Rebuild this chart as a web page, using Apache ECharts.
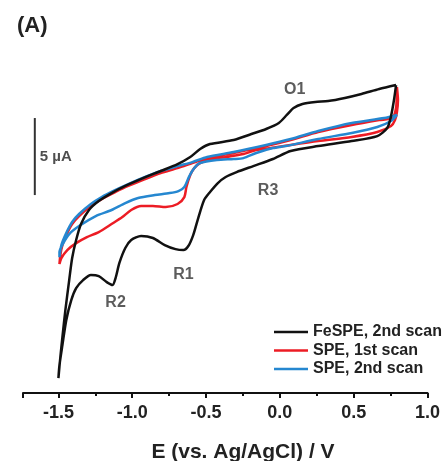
<!DOCTYPE html>
<html>
<head>
<meta charset="utf-8">
<script src="https://cdn.jsdelivr.net/npm/echarts@6/dist/echarts.min.js"></script>
<style>
  html, body { margin: 0; padding: 0; background: #fff; }
  #chart { width: 443px; height: 461px; }
</style>
</head>
<body>
<div id="chart"></div>
<script>
// Cyclic voltammograms: potential E (V vs. Ag/AgCl) and current I (µA).
// Each loop is listed in scan order (cathodic branch, then anodic branch).

var feE = [0.787, 0.773, 0.753, 0.727, 0.660, 0.487, 0.260, 0.073, -0.047, -0.180, -0.293, -0.367, -0.420, -0.473, -0.513, -0.553, -0.587, -0.620, -0.653, -0.707, -0.780, -0.860, -0.940, -1.007, -1.047, -1.087, -1.113, -1.133, -1.173, -1.227, -1.280, -1.333, -1.380, -1.413, -1.447, -1.473, -1.493, -1.500,
  -1.487, -1.473, -1.453, -1.427, -1.407, -1.380, -1.347, -1.293, -1.227, -1.140, -1.047, -0.927, -0.807, -0.693, -0.607, -0.540, -0.473, -0.313, -0.193, -0.093, -0.007, 0.047, 0.093, 0.153, 0.240, 0.327, 0.440, 0.553, 0.673, 0.787];
var feI = [6.49, 5.52, 4.48, 3.70, 3.18, 2.86, 2.53, 2.21, 1.69, 1.23, 0.84, 0.52, 0.13, -0.45, -0.97, -2.14, -3.25, -3.96, -4.22, -4.16, -3.90, -3.44, -3.31, -3.57, -4.09, -5.06, -6.04, -6.49, -6.30, -5.91, -5.84, -6.17, -6.69, -7.47, -8.77, -10.39, -11.69, -12.53,
  -11.17, -9.87, -8.12, -6.17, -4.74, -3.57, -2.53, -1.62, -1.04, -0.52, -0.06, 0.45, 0.91, 1.36, 1.82, 2.34, 2.66, 2.92, 3.31, 3.64, 4.03, 4.55, 5.00, 5.26, 5.39, 5.45, 5.65, 5.91, 6.23, 6.49];

var spe1E = [0.793, 0.800, 0.793, 0.780, 0.753, 0.660, 0.487, 0.260, 0.073, -0.060, -0.160, -0.247, -0.360, -0.427, -0.540, -0.580, -0.607, -0.633, -0.647, -0.693, -0.773, -0.860, -0.940, -1.007, -1.067, -1.140, -1.227, -1.307, -1.380, -1.440, -1.480, -1.493,
  -1.487, -1.473, -1.447, -1.407, -1.360, -1.280, -1.207, -1.113, -1.027, -0.913, -0.807, -0.693, -0.593, -0.493, -0.313, -0.093, 0.073, 0.260, 0.487, 0.673, 0.760, 0.787, 0.793];
var spe1I = [6.36, 5.52, 4.74, 4.22, 3.83, 3.44, 3.12, 2.86, 2.60, 2.40, 2.27, 2.01, 1.82, 1.75, 1.43, 1.10, 0.65, -0.13, -0.78, -1.23, -1.43, -1.36, -1.36, -1.62, -2.08, -2.53, -3.05, -3.38, -3.77, -4.22, -4.74, -5.13,
  -4.55, -3.90, -3.25, -2.53, -2.01, -1.36, -0.91, -0.45, -0.06, 0.39, 0.78, 1.10, 1.43, 1.75, 2.08, 2.53, 2.92, 3.44, 3.90, 4.22, 4.35, 5.00, 6.36];

var spe2E = [-1.493, -1.480, -1.447, -1.407, -1.360, -1.280, -1.207, -1.113, -1.027, -0.913, -0.807, -0.693, -0.593, -0.493, -0.313, -0.093, 0.073, 0.260, 0.487, 0.707, 0.793,
  0.753, 0.660, 0.487, 0.260, 0.040, -0.047, -0.160, -0.247, -0.313, -0.427, -0.540, -0.580, -0.613, -0.647, -0.687, -0.747, -0.847, -0.960, -1.047, -1.140, -1.247, -1.360, -1.427, -1.467, -1.493, -1.493];
var spe2I = [-4.68, -3.90, -3.12, -2.40, -1.88, -1.23, -0.78, -0.32, 0.06, 0.52, 0.91, 1.23, 1.49, 1.82, 2.14, 2.60, 2.99, 3.51, 4.03, 4.35, 4.55,
  4.16, 3.77, 3.38, 2.99, 2.53, 2.40, 2.08, 1.75, 1.69, 1.62, 1.43, 1.10, 0.58, -0.13, -0.39, -0.52, -0.65, -0.84, -1.17, -1.62, -2.01, -2.66, -3.18, -3.77, -4.35, -4.68];

// Peak labels
var peakNames = ['O1', 'R1', 'R2', 'R3'];
var peakE = [0.10, -0.653, -1.113, -0.08];
var peakI = [6.17, -5.84, -7.66, -0.39];

// 5 µA scale bar
var barE = -1.66;
var barI = [-0.65, 4.35];
var barText = '5 µA';

// Axis ticks
var majorTicks = [-1.5, -1.0, -0.5, 0.0, 0.5, 1.0];
var minorTicks = [-1.25, -0.75, -0.25, 0.25, 0.75];
var xMin = -1.74, xMax = 1.0;

var names = ['FeSPE, 2nd scan', 'SPE, 1st scan', 'SPE, 2nd scan'];

function pairs(xs, ys) {
  return xs.map(function (x, i) { return [x, ys[i]]; });
}

function curve(name, xs, ys, color, z) {
  return {
    name: name, type: 'line', data: pairs(xs, ys),
    xAxisIndex: 0, yAxisIndex: 0,
    smooth: 0.25, showSymbol: false, symbol: 'none', clip: false, z: z,
    lineStyle: { color: color, width: 2.5 },
    itemStyle: { color: color }
  };
}

var chart = echarts.init(document.getElementById('chart'), null, { renderer: 'canvas' });

var font = '"Liberation Sans", Arial, sans-serif';

chart.setOption({
  animation: false,
  backgroundColor: '#ffffff',
  grid: { left: 23, right: 10, top: 31, bottom: 68 },
  xAxis: [{
    type: 'value', min: xMin, max: xMax, position: 'bottom',
    axisLine: { show: true, onZero: false, lineStyle: { color: '#111', width: 2 } },
    axisTick: { show: true, customValues: [xMin].concat(majorTicks), length: 5, lineStyle: { color: '#111', width: 2 } },
    axisLabel: {
      show: true, customValues: majorTicks, margin: 11,
      formatter: function (v) { return v.toFixed(1); },
      fontFamily: font, fontSize: 18, fontWeight: 'bold', color: '#222'
    },
    splitLine: { show: false }
  }, {
    type: 'value', min: xMin, max: xMax, position: 'bottom',
    axisLine: { show: false, onZero: false },
    axisTick: { show: true, customValues: minorTicks, length: 3, lineStyle: { color: '#111', width: 2 } },
    axisLabel: { show: false },
    splitLine: { show: false }
  }],
  yAxis: {
    type: 'value', min: -13.5, max: 10, show: false, splitLine: { show: false }
  },
  legend: {
    data: names, orient: 'vertical', left: 274, top: 324,
    padding: 0, itemGap: 2.5, icon: 'rect', itemWidth: 34, itemHeight: 2.5,
    textStyle: { fontFamily: font, fontSize: 16, fontWeight: 'bold', color: '#222' }
  },
  graphic: [{
    type: 'text', x: 17, y: 26,
    style: { text: '(A)', font: 'bold 22px ' + font, fill: '#222', textVerticalAlign: 'middle' }
  }, {
    type: 'text', x: 243, y: 452,
    style: { text: 'E (vs. Ag/AgCl) / V', font: 'bold 21px ' + font, fill: '#222', textAlign: 'center', textVerticalAlign: 'middle' }
  }],
  series: [
    curve(names[1], spe1E, spe1I, '#ec1c24', 2),
    curve(names[2], spe2E, spe2I, '#2587d0', 3),
    curve(names[0], feE, feI, '#111111', 4),
    {
      name: 'scale', type: 'line', data: [[barE, barI[0]], [barE, barI[1]]],
      showSymbol: false, symbol: 'none', clip: false,
      lineStyle: { color: '#333', width: 2 }, z: 5
    },
    {
      name: 'scaleText', type: 'scatter', symbolSize: 0, clip: false,
      data: [{ name: barText, value: [barE, (barI[0] + barI[1]) / 2] }],
      label: { show: true, position: 'right', distance: 5, formatter: '{b}', fontFamily: font, fontSize: 15, fontWeight: 'bold', color: '#222' }
    },
    {
      name: 'peaks', type: 'scatter', symbolSize: 0, clip: false,
      data: peakNames.map(function (n, i) { return { name: n, value: [peakE[i], peakI[i]] }; }),
      label: { show: true, position: 'inside', formatter: '{b}', fontFamily: font, fontSize: 16, fontWeight: 'bold', color: '#333' }
    }
  ]
});
</script>
</body>
</html>
